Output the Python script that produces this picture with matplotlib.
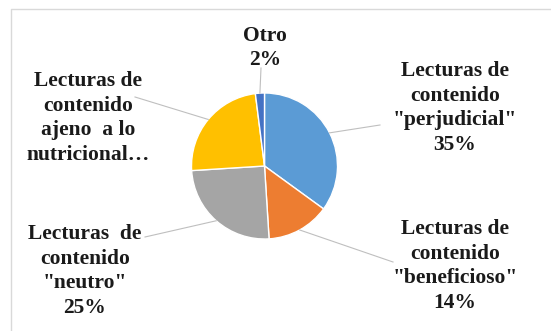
import matplotlib
matplotlib.use("Agg")
import matplotlib.pyplot as plt
import numpy as np

categories = ['Lecturas de\ncontenido\n"perjudicial"',
              'Lecturas de\ncontenido\n"beneficioso"',
              'Lecturas  de\ncontenido\n"neutro"',
              'Lecturas de\ncontenido\najeno  a lo\nnutricional…',
              'Otro']
values = [35, 14, 25, 24, 2]
pct_labels = ['35%', '14%', '25%', None, '2%']
colors = ['#5B9BD5', '#ED7D31', '#A5A5A5', '#FFC000', '#4472C4']

W, H = 551, 331
fig = plt.figure(figsize=(W/100, H/100), dpi=100)
ax = fig.add_axes([0, 0, 1, 1])
ax.set_xlim(0, W)
ax.set_ylim(0, H)
ax.set_aspect('equal')
ax.axis('off')

# chart border
ax.plot([11, 11, W + 5], [0, H - 9, H - 9], color='#D9D9D9', lw=1)

cx, cy, r = 264.5, H - 166, 73
wedges, _ = ax.pie(values, colors=colors, startangle=90, counterclock=False,
                   center=(cx, cy), radius=r,
                   wedgeprops=dict(edgecolor='white', linewidth=1))
ax.set_xlim(0, W)
ax.set_ylim(0, H)
ax.axis('off')

label_pos = [(455, H - 108), (455, H - 266), (85, H - 271), (88, H - 118), (265, H - 48)]
leader_end = [(380, H - 125), (393, H - 262), (145, H - 237), (135, H - 97), (261, H - 68)]

font = dict(family='Liberation Serif', fontweight='bold', fontsize=15.5, color='#1a1a1a')
for w, cat, pct, lp, le in zip(wedges, categories, pct_labels, label_pos, leader_end):
    ang = np.deg2rad((w.theta1 + w.theta2) / 2)
    sx, sy = cx + r * np.cos(ang), cy + r * np.sin(ang)
    ax.plot([sx, le[0]], [sy, le[1]], color='#BFBFBF', lw=0.8)
    txt = cat if pct is None else cat + '\n' + pct
    ax.text(lp[0], lp[1], txt, ha='center', va='center', linespacing=1.32, **font)

fig.savefig('out.png', dpi=100)
